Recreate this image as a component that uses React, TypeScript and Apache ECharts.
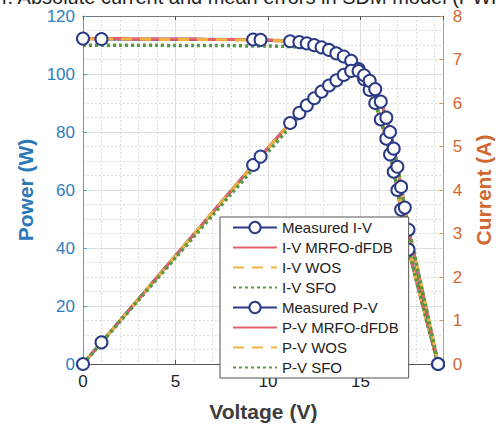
import React, { useEffect, useRef } from "react";
import * as echarts from "echarts";

const captionFragment = "r. Absolute current and mean errors in SDM model (PWP 201)";

// Measured data
const measV = [0, 1.0, 9.2, 9.6, 11.2, 11.7, 12.1, 12.5, 12.9, 13.3, 13.7, 14.1, 14.5, 14.9, 15.2, 15.5, 15.8, 16.1, 16.4, 16.6, 16.8, 17.0, 17.2, 17.4, 17.6, 19.2];
const measI = [7.48, 7.47, 7.46, 7.45, 7.42, 7.40, 7.37, 7.33, 7.28, 7.22, 7.14, 7.07, 6.97, 6.78, 6.55, 6.30, 6.00, 5.62, 5.18, 4.82, 4.42, 4.00, 3.55, 3.10, 2.63, 0];
const measP = [0, 7.47, 68.63, 71.52, 83.10, 86.58, 89.18, 91.63, 93.91, 96.03, 97.82, 99.69, 101.07, 101.02, 99.56, 97.65, 94.80, 90.48, 84.95, 80.01, 74.26, 68.00, 61.06, 53.94, 46.29, 0];

// Model curves
const modelV = [0, 1, 2, 3, 4, 5, 6, 7, 8, 9, 10, 11, 12, 12.5, 13, 13.5, 14, 14.5, 15, 15.5, 16, 16.5, 17, 17.5, 18, 18.5, 19, 19.2];
const mrfoI = [7.48, 7.48, 7.48, 7.47, 7.47, 7.47, 7.47, 7.46, 7.46, 7.46, 7.45, 7.43, 7.38, 7.33, 7.26, 7.18, 7.09, 6.97, 6.70, 6.30, 5.75, 5.00, 4.00, 2.85, 1.95, 1.12, 0.32, 0];
const wosI = [7.47, 7.47, 7.47, 7.47, 7.46, 7.46, 7.46, 7.46, 7.45, 7.45, 7.44, 7.42, 7.38, 7.33, 7.27, 7.19, 7.09, 6.96, 6.72, 6.33, 5.78, 5.03, 4.04, 2.88, 1.97, 1.13, 0.33, 0];
const sfoI = [7.33, 7.33, 7.33, 7.33, 7.33, 7.32, 7.32, 7.32, 7.32, 7.31, 7.31, 7.30, 7.27, 7.23, 7.18, 7.11, 7.02, 6.90, 6.67, 6.28, 5.73, 5.00, 4.02, 2.87, 1.97, 1.13, 0.33, 0];
const mrfoP = [0, 7.48, 14.96, 22.41, 29.88, 37.35, 44.82, 52.22, 59.68, 67.14, 74.50, 81.73, 88.56, 91.63, 94.38, 96.93, 99.26, 101.07, 100.50, 97.65, 92.00, 82.50, 68.00, 49.88, 35.10, 20.72, 6.08, 0];
const wosP = [0, 7.47, 14.94, 22.41, 29.84, 37.30, 44.76, 52.22, 59.60, 67.05, 74.40, 81.62, 88.56, 91.63, 94.51, 97.07, 99.26, 100.92, 100.80, 98.12, 92.48, 83.00, 68.68, 50.40, 35.46, 20.91, 6.27, 0];
const sfoP = [0, 7.33, 14.66, 21.99, 29.32, 36.60, 43.92, 51.24, 58.56, 65.79, 73.10, 80.30, 87.24, 90.38, 93.34, 95.99, 98.28, 100.05, 100.05, 97.34, 91.68, 82.50, 68.34, 50.23, 35.46, 20.91, 6.27, 0];

const legendNames = [
  "Measured I-V",
  "I-V MRFO-dFDB",
  "I-V WOS",
  "I-V SFO",
  "Measured P-V",
  "P-V MRFO-dFDB",
  "P-V WOS",
  "P-V SFO",
];

const NAVY = "#2b3a87";
const RED = "#e5606a";
const ORANGE = "#f2b23e";
const GREEN = "#56993f";
const BLUE = "#2f80bd";
const ORANGE_AX = "#d0692f";
const FONT = "Liberation Sans, Arial, sans-serif";

const pairs = (xs: number[], ys: number[]) => xs.map((x, i) => [x, ys[i]]);

export default function App() {
  const ref = useRef<HTMLDivElement>(null);
  useEffect(() => {
    if (!ref.current) return;
    const chart = echarts.init(ref.current, undefined, { renderer: "svg" });

    const measured = (name: string, xs: number[], ys: number[], yIdx: number) => ({
      name,
      type: "line",
      yAxisIndex: yIdx,
      data: pairs(xs, ys),
      symbol: "emptyCircle",
      symbolSize: 12,
      showSymbol: true,
      lineStyle: { color: NAVY, width: 3 },
      itemStyle: { color: NAVY, borderColor: NAVY, borderWidth: 3 },
    });
    const model = (name: string, ys: number[], yIdx: number, color: string, type: any, width: number) => ({
      name,
      type: "line",
      yAxisIndex: yIdx,
      data: pairs(modelV, ys),
      symbol: "none",
      showSymbol: false,
      smooth: 0.3,
      lineStyle: { color, width, type },
      itemStyle: { color },
    });

    chart.setOption({
      animation: false,
      backgroundColor: "#ffffff",
      textStyle: { fontFamily: FONT },
      graphic: [
        {
          type: "text",
          left: 2,
          top: -13,
          style: { text: captionFragment, font: `20px ${FONT}`, fill: "#222" },
        },
      ],
      grid: { left: 83, right: 56, top: 16, bottom: 58, show: false },
      legend: {
        orient: "vertical",
        left: 220,
        top: 217,
        itemWidth: 44,
        itemHeight: 14,
        itemGap: 5,
        padding: [3, 10, 3, 12],
        backgroundColor: "#ffffff",
        borderColor: "#555",
        borderWidth: 1,
        borderRadius: 0,
        data: legendNames.map((n) =>
          n.startsWith("Measured") ? { name: n } : { name: n, itemStyle: { opacity: 0 } }
        ),
        textStyle: { fontSize: 15, color: "#222", fontFamily: FONT, padding: [0, 0, 0, 0] },
      },
      xAxis: [
        {
          type: "value",
          min: 0,
          max: 19.5,
          interval: 5,
          position: "bottom",
          axisLine: { show: true, onZero: false, lineStyle: { color: "#555", width: 1 } },
          axisTick: { show: true, inside: true, length: 4, lineStyle: { color: "#555" } },
          axisLabel: { color: "#222", fontSize: 17, margin: 9, fontFamily: FONT, formatter: (v: number) => (v > 19 ? "" : String(v)) },
          splitLine: { show: true, lineStyle: { color: "#dedede", width: 1 } },
          minorTick: { show: false, splitNumber: 5 },
          minorSplitLine: { show: true, lineStyle: { color: "#dcdcdc", width: 1, type: [2, 2] } },
          name: "Voltage (V)",
          nameLocation: "middle",
          nameGap: 37,
          nameTextStyle: { fontSize: 21, fontWeight: "bold", color: "#3c3c3c", fontFamily: FONT },
        },
        {
          type: "value",
          min: 0,
          max: 19.5,
          interval: 5,
          position: "top",
          axisLine: { show: true, onZero: false, lineStyle: { color: "#777", width: 1 } },
          axisTick: { show: true, inside: true, length: 4, lineStyle: { color: "#555" } },
          axisLabel: { show: false },
          splitLine: { show: false },
        },
      ],
      yAxis: [
        {
          type: "value",
          min: 0,
          max: 120,
          interval: 20,
          position: "left",
          axisLine: { show: true, onZero: false, lineStyle: { color: "#5c9bcf", width: 1 } },
          axisTick: { show: true, inside: true, length: 4, lineStyle: { color: "#5c9bcf" } },
          axisLabel: { color: BLUE, fontSize: 17, margin: 8, fontFamily: FONT },
          splitLine: { show: true, lineStyle: { color: "#dedede", width: 1 } },
          minorTick: { show: false, splitNumber: 4 },
          minorSplitLine: { show: true, lineStyle: { color: "#dcdcdc", width: 1, type: [2, 2] } },
          name: "Power (W)",
          nameLocation: "middle",
          nameGap: 46,
          nameTextStyle: { fontSize: 21, fontWeight: "bold", color: "#2a78b6", fontFamily: FONT },
        },
        {
          type: "value",
          min: 0,
          max: 8,
          interval: 1,
          position: "right",
          axisLine: { show: true, onZero: false, lineStyle: { color: "#e0905f", width: 1 } },
          axisTick: { show: true, inside: true, length: 4, lineStyle: { color: "#e0905f" } },
          axisLabel: { color: ORANGE_AX, fontSize: 17, margin: 9, fontFamily: FONT },
          splitLine: { show: false },
          name: "Current (A)",
          nameLocation: "middle",
          nameGap: 28,
          nameRotate: 90,
          nameTextStyle: { fontSize: 21, fontWeight: "bold", color: ORANGE_AX, fontFamily: FONT },
        },
      ],
      series: [
        measured("Measured I-V", measV, measI, 1),
        model("I-V MRFO-dFDB", mrfoI, 1, RED, "solid", 3),
        model("I-V WOS", wosI, 1, ORANGE, [11, 8], 3),
        model("I-V SFO", sfoI, 1, GREEN, [3, 3], 3.5),
        measured("Measured P-V", measV, measP, 0),
        model("P-V MRFO-dFDB", mrfoP, 0, RED, "solid", 3),
        model("P-V WOS", wosP, 0, ORANGE, [11, 8], 3),
        model("P-V SFO", sfoP, 0, GREEN, [3, 3], 3.5),
      ],
    });
    return () => chart.dispose();
  }, []);
  return <div ref={ref} style={{ position: "fixed", left: 0, top: 0, width: 502, height: 427 }} />;
}
